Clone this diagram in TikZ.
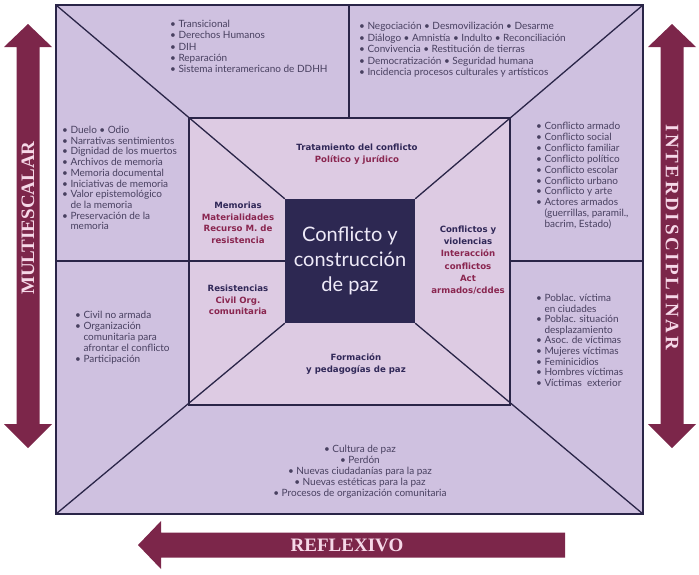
\documentclass[tikz,border=0pt]{standalone}
\usepackage{fontspec}
\setmainfont{Lato}
\newfontfamily\axisfont{Liberation Serif}
\newfontfamily\topicfont{DejaVu Sans}
\usetikzlibrary{positioning}
\definecolor{framenavy}{RGB}{42,37,72}
\definecolor{corenavy}{RGB}{45,40,82}
\definecolor{outerlilac}{RGB}{207,193,224}
\definecolor{innerlilac}{RGB}{221,203,227}
\definecolor{arrowwine}{RGB}{124,38,74}
\definecolor{titlenavy}{RGB}{48,40,88}
\definecolor{subwine}{RGB}{138,38,80}
\definecolor{listgray}{RGB}{72,64,96}
\definecolor{arrowpink}{RGB}{246,216,232}
\definecolor{coretext}{RGB}{238,234,248}
\tikzset{
  frameline/.style={framenavy, line width=1.3pt},
  listbox/.style={inner sep=0pt, align=left, anchor=north west,
    font=\fontsize{10}{11}\selectfont, text=listgray},
  topicbox/.style={inner sep=0pt, align=center,
    font=\topicfont\bfseries\fontsize{8.6}{11.5}\selectfont, text=titlenavy},
  corebox/.style={fill=corenavy, inner sep=0pt, align=center,
    minimum width=130pt, minimum height=124pt,
    text=coretext, font=\fontsize{20}{25}\selectfont},
  axislabel/.style={inner sep=0pt, text=arrowpink,
    font=\axisfont\bfseries\fontsize{19}{19}\selectfont},
  axisarrow/.style={fill=arrowwine}
}
\newcommand{\itm}{\textbullet\hspace{2.5pt}}
\newcommand{\cnt}{\phantom{\textbullet}\hspace{2.5pt}}
\newcommand{\wine}[1]{\textcolor{subwine}{#1}}

\begin{document}
\begin{tikzpicture}[x=1pt, y=-1pt]
  \useasboundingbox (0,0) rectangle (699,574);

  % Corners of the frames
  \coordinate (otl) at (56,5);
  \coordinate (otr) at (643,5);
  \coordinate (obl) at (56,514);
  \coordinate (obr) at (643,514);
  \coordinate (itl) at (189,118);
  \coordinate (ibr) at (510,405);
  \coordinate (lmid) at (56,261);
  \coordinate (rmid) at (643,261);
  \coordinate (rin) at (510,261);
  \coordinate (ttop) at (349,5);
  \coordinate (tin) at (349,118);

  % Background fields
  \fill[outerlilac] (otl) rectangle (obr);
  \fill[innerlilac] (itl) rectangle (ibr);

  % Centre box
  \node[corebox] (core) at (350,261) {Conflicto y\\construcción\\de paz};

  % Dividing lines
  \draw[frameline] (otl) -- (core.north west);
  \draw[frameline] (otr) -- (core.north east);
  \draw[frameline] (obl) -- (core.south west);
  \draw[frameline] (obr) -- (core.south east);
  \draw[frameline] (lmid) -- (core.west);
  \draw[frameline] (rin) -- (rmid);
  \draw[frameline] (ttop) -- (tin);
  \draw[frameline] (itl) rectangle (ibr);
  \draw[framenavy, line width=2pt] (otl) rectangle (obr);

  % Topics of the inner ring
  \node[topicbox] (treat) at (357,154) {Tratamiento del conflicto\\\wine{Político y jurídico}};
  \node[topicbox] (memory) at (238,223) {Memorias\\\wine{Materialidades}\\\wine{Recurso M. de}\\\wine{resistencia}};
  \node[topicbox] (resist) at (238,300) {Resistencias\\\wine{Civil Org.}\\\wine{comunitaria}};
  \node[topicbox, font=\topicfont\bfseries\fontsize{8.6}{12.3}\selectfont] (violence) at (468,260)
    {Conflictos y\\violencias\\\wine{Interacción}\\\wine{conflictos}\\\wine{Act}\\\wine{armados/cddes}};
  \node[topicbox] (pedagogy) at (356,364) {Formación\\y pedagogías de paz};

  % Lists of the outer ring
  \node[listbox, font=\fontsize{10}{11.3}\selectfont] (lawlist) at (170,20) {\itm Transicional\\\itm Derechos Humanos\\\itm DIH\\\itm Reparación\\\itm Sistema interamericano de DDHH};
  \node[listbox, font=\fontsize{10}{11.5}\selectfont] (peacelist) at (359,22)
    {\itm Negociación \itm Desmovilización \itm Desarme\\
     \itm Diálogo \itm Amnistía \itm Indulto \itm Reconciliación\\
     \itm Convivencia \itm Restitución de tierras\\
     \itm Democratización \itm Seguridad humana\\
     \itm Incidencia procesos culturales y artísticos};
  \node[listbox, font=\fontsize{10}{10.7}\selectfont] (memlist) at (62,126)
    {\itm Duelo \itm Odio\\\itm Narrativas sentimientos\\\itm Dignidad de los muertos\\
     \itm Archivos de memoria\\\itm Memoria documental\\\itm Iniciativas de memoria\\
     \itm Valor epistemológico\\\cnt de la memoria\\\itm Preservación de la\\\cnt memoria};
  \node[listbox, font=\fontsize{10}{10.9}\selectfont] (conflist) at (536,122)
    {\itm Conflicto armado\\\itm Conflicto social\\\itm Conflicto familiar\\
     \itm Conflicto político\\\itm Conflicto escolar\\\itm Conflicto urbano\\
     \itm Conflicto y arte\\\itm Actores armados\\\cnt (guerrillas, paramil.,\\\cnt bacrim, Estado)};
  \node[listbox] (civlist) at (75,311)
    {\itm Civil no armada\\\itm Organización\\\cnt comunitaria para\\\cnt afrontar el conflicto\\\itm Participación};
  \node[listbox, font=\fontsize{10}{10.6}\selectfont] (victlist) at (536,294)
    {\itm Poblac. víctima\\\cnt en ciudades\\\itm Poblac. situación\\\cnt desplazamiento\\
     \itm Asoc. de víctimas\\\itm Mujeres víctimas\\\itm Feminicidios\\
     \itm Hombres víctimas\\\itm Víctimas\ \ exterior};
  \node[listbox, anchor=north, align=center] (culturelist) at (360,445)
    {\itm Cultura de paz\\\itm Perdón\\\itm Nuevas ciudadanías para la paz\\
     \itm Nuevas estéticas para la paz\\\itm Procesos de organización comunitaria};

  % Axis arrows
  \fill[axisarrow] (28,24) -- (52,47) -- (39.5,47) -- (39.5,424) -- (52,424) -- (28,448)
    -- (4,424) -- (16.5,424) -- (16.5,47) -- (4,47) -- cycle;
  \fill[axisarrow] (672,24) -- (696,47) -- (683.5,47) -- (683.5,424) -- (696,424) -- (672,448)
    -- (648,424) -- (660.5,424) -- (660.5,47) -- (648,47) -- cycle;
  \fill[axisarrow] (138,545) -- (161,521) -- (161,532.5) -- (565,532.5) -- (565,557.5)
    -- (161,557.5) -- (161,569) -- cycle;
  \node[axislabel, rotate=90] (multi) at (28,218) {MULTIESCALAR};
  \node[axislabel, rotate=-90] (inter) at (672,237) {\addfontfeature{LetterSpace=14}INTERDISCIPLINAR};
  \node[axislabel] (reflex) at (347,545) {REFLEXIVO};
\end{tikzpicture}
\end{document}
